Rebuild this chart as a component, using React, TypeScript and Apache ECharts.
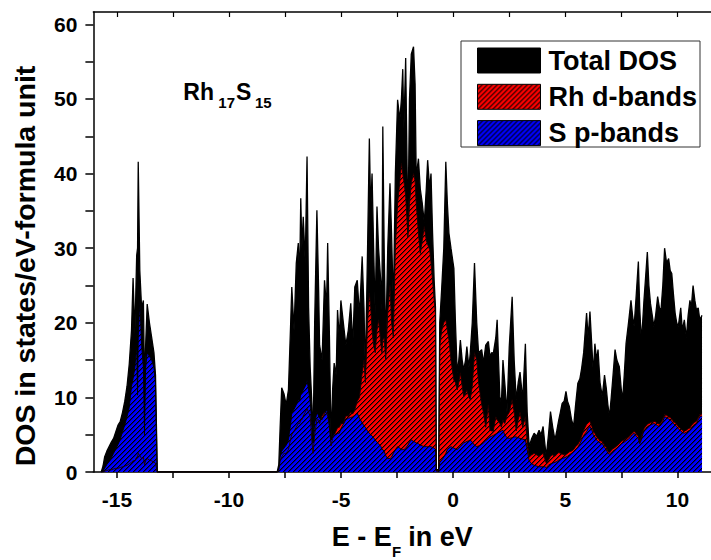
import React, { useEffect, useRef } from "react";
import * as echarts from "echarts";

// ---------- data (energy in eV, DOS in states/eV-formula unit) ----------
const energiesA = [
  -15.7, -15.62, -15.55, -15.45, -15.35, -15.25, -15.15, -15.05, -14.95, -14.85,
  -14.75, -14.65, -14.55, -14.45, -14.35, -14.28, -14.2, -14.12, -14.08, -14.05,
  -13.98, -13.9, -13.82, -13.77, -13.72, -13.65, -13.55, -13.45, -13.35, -13.28,
  -13.2,
];
const totalA = [
  0, 0.8, 2.0, 2.8, 3.4, 4.0, 4.5, 5.4, 6.3, 6.8,
  8.0, 9.5, 11.5, 14.5, 19.0, 26.0, 18.5, 29.0, 30.0, 41.6,
  27.0, 22.0, 23.0, 12.0, 17.0, 22.5, 20.0, 18.0, 16.0, 13.0,
  0,
];
const rhA = [
  0, 0, 0.1, 0.2, 0.3, 0.3, 0.4, 0.5, 0.5, 0.6,
  0.7, 0.8, 0.9, 1.1, 1.3, 1.5, 1.5, 2.0, 2.0, 2.5,
  2.2, 1.8, 2.0, 1.0, 1.5, 1.8, 1.6, 1.5, 1.3, 1.2,
  0,
];
const sA = [
  0, 0.1, 0.5, 1.0, 1.4, 1.9, 2.5, 3.1, 3.7, 4.4,
  5.4, 6.3, 7.4, 8.7, 11.5, 12.5, 14.0, 17.0, 10.3, 18.0,
  23.0, 17.0, 14.0, 5.0, 14.0, 16.0, 15.5, 15.0, 14.0, 12.0,
  0,
];

const energiesB = [
  -7.85, -7.78, -7.72, -7.65, -7.55, -7.45, -7.35, -7.25, -7.2, -7.1,
  -7.0, -6.91, -6.85, -6.8, -6.75, -6.69, -6.6, -6.52, -6.45, -6.38,
  -6.3, -6.25, -6.18, -6.08, -6.0, -5.96, -5.85, -5.74, -5.65, -5.6,
  -5.52, -5.45, -5.38, -5.31, -5.22, -5.16, -5.08, -5.01, -4.9, -4.79,
  -4.68, -4.57, -4.48, -4.39, -4.28, -4.18, -4.06, -3.98, -3.92, -3.82,
  -3.74, -3.68, -3.62, -3.55, -3.48, -3.4, -3.33, -3.22, -3.18, -3.14,
  -3.08, -3.01, -2.92, -2.82, -2.75, -2.67, -2.58, -2.48, -2.38, -2.31,
  -2.25, -2.2, -2.12, -2.02, -1.95, -1.87, -1.77, -1.7, -1.65, -1.55,
  -1.47, -1.38, -1.29, -1.2, -1.14, -1.05, -0.99, -0.92, -0.85, -0.79,
  -0.76, -0.75,
];
const totalB = [
  0, 1, 6, 11.3, 10.5, 9, 11, 20, 24.8, 19,
  28, 30.7, 26, 36.7, 30, 34.2, 28, 42.3, 22, 14,
  9, 3.9, 20, 35.1, 24, 17, 15, 25.7, 22, 30.7,
  18, 4.3, 11, 14.6, 13, 21.7, 18, 23, 20, 17,
  19, 22.6, 17, 24.8, 25.7, 21, 28.9, 22, 13.2, 30,
  44.7, 35, 40, 30, 21.3, 35.6, 30, 25, 21.7, 46.3,
  30, 16.8, 30, 38.7, 32, 22.2, 40, 49.9, 47.2, 50,
  54, 46, 55.5, 32, 50, 56, 57, 52, 39.6, 42,
  38, 36, 33.4, 38, 41.8, 38, 40, 32, 25.7, 22,
  6, 0.3,
];
const rhB = [
  0, 0.3, 1.5, 2, 2.5, 2.5, 3, 4.5, 5, 5.5,
  6, 6.5, 6.5, 7, 7, 7.5, 8, 8.5, 8, 7.5,
  4, 2.5, 5, 7, 7, 6.5, 7.5, 8, 8, 7.5,
  6, 3.5, 4.5, 5, 5.5, 6, 6, 6.5, 6.5, 7.5,
  7.5, 8, 7.8, 8.3, 9.5, 10, 13.3, 15, 12, 20,
  24, 22, 19, 17, 16, 19, 20.4, 17, 16, 17.7,
  18, 15, 21.3, 25, 20, 18, 30, 36, 39, 41.4,
  40, 39, 37, 31.5, 36, 38.7, 40, 39, 36, 32,
  29.3, 31, 32.9, 31, 30.5, 29.8, 28, 25.7, 23, 21.3,
  5, 0.2,
];
const sB = [
  0, 0.5, 2, 2.8, 3.2, 3.6, 4.3, 6.5, 7.9, 8.4,
  9, 9.7, 9.5, 10.4, 10.5, 11, 11.5, 12.3, 11, 9.5,
  6, 3.9, 6.5, 8, 7.5, 7.2, 7, 7.8, 8.3, 8,
  6.5, 4.3, 4.8, 5.2, 5, 5.2, 5.2, 5.8, 6.4, 7,
  7.2, 7.3, 7.4, 7.6, 7.9, 7.2, 6.6, 6.2, 6, 5.5,
  5.2, 5, 4.8, 4.6, 4.3, 4, 3.8, 3.4, 3, 3,
  2.8, 2.2, 1.8, 1.8, 2, 2.5, 3, 3.4, 3.2, 3,
  3, 3, 3.2, 3.6, 4, 4.3, 4.1, 4, 3.9, 3.8,
  3.6, 3.5, 3.4, 3.4, 3.4, 3.4, 3.4, 3.3, 3.2, 3,
  1.2, 0.1,
];

const energiesC = [
  -0.65, -0.6, -0.51, -0.42, -0.33, -0.26, -0.19, -0.1, 0.03, 0.1,
  0.18, 0.25, 0.32, 0.4, 0.47, 0.55, 0.61, 0.7, 0.76, 0.85,
  0.95, 1.05, 1.13, 1.27, 1.35, 1.45, 1.57, 1.64, 1.72, 1.79,
  1.9, 1.96, 2.08, 2.15, 2.22, 2.3, 2.4, 2.5, 2.63, 2.72,
  2.81, 2.9, 2.98, 3.1, 3.22, 3.3,
];
const totalC = [
  0.3, 20, 24.8, 30, 41.6, 36, 32, 30, 27.3, 20,
  13.3, 15, 17.7, 15, 13.7, 15, 16.8, 14, 15.9, 20,
  28, 20, 16, 16.4, 14.6, 17, 17.5, 15.5, 16, 15.9,
  18, 20.4, 10.1, 9.2, 15, 12, 8, 16.8, 23.5, 15,
  9.7, 12, 13.4, 9.7, 17.2, 8,
];
const rhC = [
  0.2, 17, 19, 20, 20.4, 19, 17.7, 15, 12.3, 12,
  11, 12, 13.3, 11.5, 10.1, 10.5, 11, 10, 9.7, 11.5,
  16, 15, 12, 9, 8, 6, 9, 5.6, 5.5, 5.5,
  7.4, 7, 6.5, 6, 7, 6.5, 7.5, 8, 9.7, 8,
  5.5, 7, 8, 6, 7.4, 4,
];
const sC = [
  0.1, 1.3, 1.6, 2, 2.5, 3, 3.2, 3.4, 3.2, 3.1,
  3, 3.2, 3.4, 3.7, 3.9, 4, 4.1, 4.2, 4.3, 4,
  3.6, 3.4, 3.5, 3.7, 3.9, 4.2, 4.5, 4.7, 4.8, 4.9,
  5.1, 5.2, 5.4, 5.5, 5.6, 5, 4.6, 4.5, 4.6, 4.7,
  4.7, 4.6, 4.5, 4.4, 4.3, 3,
];

const energiesD = [
  3.39, 3.5, 3.61, 3.72, 3.83, 3.92, 4.01, 4.08, 4.15, 4.25,
  4.34, 4.44, 4.54, 4.62, 4.71, 4.78, 4.86, 4.95, 5.03, 5.1,
  5.18, 5.28, 5.37, 5.46, 5.56, 5.65, 5.73, 5.82, 5.95, 6.02,
  6.1, 6.2, 6.25, 6.32, 6.4, 6.46, 6.55, 6.65, 6.75, 6.83,
  6.9, 6.97, 7.05, 7.12, 7.22, 7.3, 7.41, 7.5, 7.56, 7.63,
  7.71, 7.82, 7.93, 8.0, 8.07, 8.17, 8.26, 8.32, 8.39, 8.45,
  8.51, 8.58, 8.66, 8.73, 8.8, 8.88, 8.95, 9.03, 9.12, 9.2,
  9.27, 9.35, 9.43, 9.52, 9.61, 9.68, 9.75, 9.82, 9.9, 9.97,
  10.04, 10.15, 10.22, 10.31, 10.4, 10.48, 10.56, 10.62, 10.7, 10.78,
  10.85, 10.93, 11.0, 11.1,
];
const totalD = [
  3.4, 4.5, 5.2, 4.8, 5.6, 5, 6.1, 4, 2.1, 5,
  8.1, 6, 4.3, 5.5, 7, 8, 9.2, 9.5, 10.8, 9.5,
  8.8, 7, 6.1, 9, 11.9, 12.5, 13.9, 16, 21.3, 18,
  21.5, 16, 13.2, 17.2, 15, 16.4, 12, 10.1, 13, 11.2,
  9, 7.4, 10, 12.6, 16.4, 15, 14.1, 11, 9.7, 13,
  17.2, 20, 23, 21, 19.5, 24, 28.2, 22, 17.7, 20,
  23, 26, 29.5, 25, 22.6, 21, 19.5, 21, 23.5, 22,
  21.7, 25, 30, 28, 28.6, 27, 26.6, 24, 21.3, 20,
  19.5, 22, 19, 20.4, 18, 21, 23, 22, 25, 23,
  21.7, 22, 20.4, 21,
];
const rhD = [
  2, 2.3, 2.5, 2.3, 2.1, 2.3, 2.5, 1.8, 1.2, 1.6,
  2.1, 2.3, 2.1, 2.4, 2.6, 2.5, 2.4, 2.3, 2.4, 2.5,
  2.7, 2.8, 3.0, 3.4, 3.7, 4.2, 4.8, 5.6, 6.4, 6.6,
  6.8, 6.0, 5.4, 5.2, 4.7, 4.5, 4.2, 4.1, 3.6, 3.3,
  2.8, 2.6, 2.9, 3.1, 3.3, 3.5, 3.8, 4.1, 4.2, 4.3,
  4.5, 4.7, 5.1, 5.3, 5.5, 5.1, 4.8, 4.1, 4.6, 5.3,
  5.8, 6.1, 6.4, 6.5, 6.6, 6.7, 6.8, 6.7, 6.5, 6.4,
  6.6, 7.1, 7.7, 7.6, 7.4, 7.3, 7.1, 6.8, 6.6, 6.4,
  6.1, 5.8, 5.6, 5.5, 5.6, 5.8, 5.9, 6.2, 6.5, 6.7,
  6.8, 7.3, 7.7, 7.8,
];
const sD = [
  1.5, 1.1, 0.9, 0.8, 0.7, 0.7, 0.7, 0.7, 0.6, 0.9,
  1.1, 1.2, 1.3, 1.4, 1.6, 1.7, 1.8, 1.9, 2, 2.1,
  2.3, 2.5, 2.7, 3, 3.3, 3.8, 4.3, 4.9, 5.4, 5.8,
  6.1, 5.5, 5, 4.7, 4.3, 4.1, 3.9, 3.8, 3.3, 3,
  2.5, 2.4, 2.6, 2.8, 3, 3.2, 3.5, 3.8, 3.9, 4,
  4.2, 4.4, 4.8, 5, 5.2, 4.8, 4.5, 3.8, 4.3, 5,
  5.5, 5.8, 6.1, 6.2, 6.3, 6.4, 6.5, 6.4, 6.2, 6.1,
  6.3, 6.8, 7.4, 7.3, 7.1, 7, 6.8, 6.5, 6.3, 6.1,
  5.8, 5.5, 5.3, 5.2, 5.3, 5.5, 5.6, 5.9, 6.2, 6.4,
  6.5, 7, 7.4, 7.5,
];

const energies = [...energiesA, ...energiesB, ...energiesC, ...energiesD];
const totalDos = [...totalA, ...totalB, ...totalC, ...totalD];
const rhDBands = [...rhA, ...rhB, ...rhC, ...rhD];
const sPBands = [...sA, ...sB, ...sC, ...sD];

const seriesNames = ["Total DOS", "Rh d-bands", "S p-bands"];
const xLabelValues = [-15, -10, -5, 0, 5, 10];
const xTickValues = [-15, -12.5, -10, -7.5, -5, -2.5, 0, 2.5, 5, 7.5, 10];
const yLabelValues = [0, 10, 20, 30, 40, 50, 60];
const yTickValues = [0, 5, 10, 15, 20, 25, 30, 35, 40, 45, 50, 55, 60];

const FONT = '"Liberation Sans", Arial, Helvetica, sans-serif';

// crisp "////" hatch tile
function hatch(color: string) {
  const n = 5;
  const c = document.createElement("canvas");
  c.width = n;
  c.height = n;
  const g = c.getContext("2d")!;
  g.fillStyle = color;
  g.fillRect(0, 0, n, n);
  for (let i = 0; i < n; i++) {
    g.fillStyle = "#000";
    g.fillRect(i, n - 1 - i, 1, 1);
    g.fillStyle = "rgba(0,0,0,0.45)";
    g.fillRect(i, (n - i) % n, 1, 1);
  }
  return { image: c, repeat: "repeat" };
}

export default function App() {
  const ref = useRef<HTMLDivElement>(null);
  useEffect(() => {
    if (!ref.current) return;
    const chart = echarts.init(ref.current, undefined, { renderer: "svg" });
    const redHatch = hatch("#ff0000");
    const blueHatch = hatch("#0000ff");
    const pairs = (vals: number[]) => energies.map((e, i) => [e, vals[i]]);
    const axisLine = { show: true, onZero: false, lineStyle: { color: "#000", width: 1.5 } };
    const labelStyle = { fontSize: 21, fontWeight: "bold", color: "#000", fontFamily: FONT };
    const textBase = { fill: "#000", fontWeight: "bold", fontFamily: FONT, verticalAlign: "middle" };

    chart.setOption({
      animation: false,
      backgroundColor: "#fff",
      grid: { left: 93.4, top: 12, width: 628, height: 460, containLabel: false },
      xAxis: [
        {
          type: "value",
          position: "bottom",
          min: -16.05,
          max: 11.5,
          axisLine,
          axisTick: { show: true, inside: false, length: 6, customValues: xTickValues, lineStyle: { color: "#000", width: 1.5 } },
          axisLabel: { show: true, customValues: xLabelValues, margin: 17, ...labelStyle },
          splitLine: { show: false },
        },
        {
          type: "value",
          position: "top",
          min: -16.05,
          max: 11.5,
          axisLine,
          axisTick: { show: true, inside: true, length: 5, customValues: xTickValues, lineStyle: { color: "#000", width: 1.2 } },
          axisLabel: { show: false },
          splitLine: { show: false },
        },
      ],
      yAxis: {
        type: "value",
        min: 0,
        max: 61.66,
        axisLine,
        axisTick: { show: true, inside: false, length: 8, customValues: yTickValues, lineStyle: { color: "#000", width: 1.5 } },
        axisLabel: { show: true, customValues: yLabelValues, margin: 16, ...labelStyle },
        splitLine: { show: false },
      },
      legend: {
        orient: "vertical",
        left: 477,
        top: 47,
        padding: 0,
        itemWidth: 63,
        itemHeight: 25,
        itemGap: 9.3,
        icon: "rect",
        selectedMode: false,
        itemStyle: { borderColor: "#000", borderWidth: 1 },
        textStyle: { fontSize: 27, fontWeight: "bold", color: "#000", fontFamily: FONT, lineHeight: 25, padding: [0, 0, 0, 3] },
        data: [
          { name: seriesNames[0], itemStyle: { color: "#000" } },
          { name: seriesNames[1], itemStyle: { color: redHatch } },
          { name: seriesNames[2], itemStyle: { color: blueHatch } },
        ],
      },
      series: [
        {
          name: seriesNames[0],
          type: "line",
          data: pairs(totalDos),
          showSymbol: false,
          symbol: "none",
          lineStyle: { color: "#000", width: 1.3 },
          itemStyle: { color: "#000" },
          areaStyle: { color: "#000", opacity: 1 },
        },
        {
          name: seriesNames[1],
          type: "line",
          data: pairs(rhDBands),
          showSymbol: false,
          symbol: "none",
          lineStyle: { color: "#1a0000", width: 0.9 },
          itemStyle: { color: "#ff0000" },
          areaStyle: { color: redHatch, opacity: 1 },
        },
        {
          name: seriesNames[2],
          type: "line",
          data: pairs(sPBands),
          showSymbol: false,
          symbol: "none",
          lineStyle: { color: "#000", width: 0.9 },
          itemStyle: { color: "#0000ff" },
          areaStyle: { color: blueHatch, opacity: 1 },
        },
      ],
      graphic: [
        {
          type: "rect",
          z: 0,
          shape: { x: 461, y: 41, width: 239, height: 106 },
          style: { fill: "#fff", stroke: "#333", lineWidth: 1 },
        },
        { type: "text", x: 183.3, y: 91.5, style: { ...textBase, text: "Rh", fontSize: 23, align: "left" } },
        { type: "text", x: 218.3, y: 102.3, style: { ...textBase, text: "17", fontSize: 15, align: "left" } },
        { type: "text", x: 236, y: 91.5, style: { ...textBase, text: "S", fontSize: 23, align: "left" } },
        { type: "text", x: 255, y: 102.3, style: { ...textBase, text: "15", fontSize: 15, align: "left" } },
        { type: "text", x: 331.7, y: 537, style: { ...textBase, text: "E - E", fontSize: 27, align: "left" } },
        { type: "text", x: 392, y: 551.5, style: { ...textBase, text: "F", fontSize: 15, align: "left" } },
        { type: "text", x: 408.3, y: 537, style: { ...textBase, text: "in eV", fontSize: 27, align: "left" } },
        {
          type: "text",
          x: 25,
          y: 266,
          rotation: Math.PI / 2,
          style: { ...textBase, text: "DOS in states/eV-formula unit", fontSize: 28.5, align: "center" },
        },
      ],
    });
    return () => chart.dispose();
  }, []);
  return <div ref={ref} style={{ position: "fixed", left: 0, top: 0, width: 711, height: 560 }} />;
}
